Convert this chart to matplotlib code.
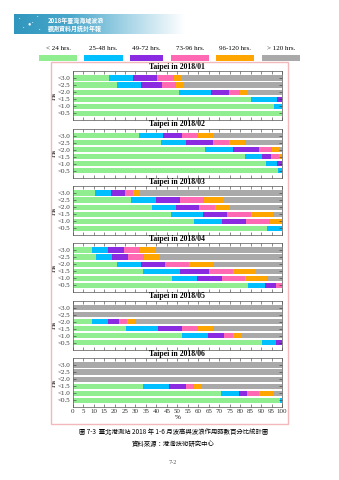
import numpy as np
import matplotlib
matplotlib.use('Agg')
import matplotlib.pyplot as plt
from matplotlib.patches import Rectangle
from matplotlib.colors import LinearSegmentedColormap

# 波高類別與持續時數類別
hs_labels = ['<0.5', '<1.0', '<1.5', '<2.0', '<2.5', '<3.0']
dur_labels = ['< 24 hrs.', '25-48 hrs.', '49-72 hrs.', '73-96 hrs.', '96-120 hrs.', '> 120 hrs.']
colors = ['#90EE90', '#00BFFF', '#8A2BE2', '#FF69B4', '#FFA500', '#A9A9A9']
months = ['2018/01', '2018/02', '2018/03', '2018/04', '2018/05', '2018/06']

# 累積百分比 (各列: <0.5 ... <3.0, 各欄: 各時數類別的累積邊界)
m01 = [[100, 100, 100, 100, 100, 100],
       [96.3, 100, 100, 100, 100, 100],
       [85.1, 97.6, 100, 100, 100, 100],
       [50.7, 66.1, 74.6, 80.0, 83.9, 100],
       [21.1, 32.8, 42.6, 49.3, 53.1, 100],
       [17.3, 28.9, 40.4, 48.2, 52.1, 100]]
m02 = [[98.3, 100, 100, 100, 100, 100],
       [92.2, 97.8, 100, 100, 100, 100],
       [82.2, 90.3, 94.6, 98.7, 100, 100],
       [63.4, 76.6, 89.0, 95.4, 99.2, 100],
       [42.1, 53.9, 66.8, 74.6, 82.2, 100],
       [31.5, 43.1, 52.3, 59.9, 67.7, 100]]
m03 = [[92.7, 100, 100, 100, 100, 100],
       [58.0, 71.2, 82.7, 94.1, 100, 100],
       [46.9, 62.2, 73.6, 85.2, 95.7, 100],
       [37.8, 49.4, 60.3, 68.0, 75.2, 100],
       [28.0, 39.7, 51.4, 62.8, 72.2, 100],
       [10.8, 18.4, 24.9, 28.9, 32.1, 100]]
m04 = [[83.6, 91.9, 97.0, 100, 100, 100],
       [47.5, 59.5, 71.1, 82.5, 93.0, 100],
       [33.7, 51.5, 65.3, 76.6, 87.4, 100],
       [21.0, 32.4, 44.0, 55.6, 67.4, 100],
       [11.1, 18.6, 26.4, 34.0, 41.6, 100],
       [9.1, 16.7, 24.5, 32.1, 39.7, 100]]
m05 = [[90.3, 97.0, 100, 100, 100, 100],
       [52.3, 64.5, 72.2, 76.8, 80.8, 100],
       [25.4, 40.7, 52.1, 59.8, 67.2, 100],
       [9.1, 16.9, 22.1, 25.9, 29.9, 100],
       [0, 0, 0, 0, 0, 100],
       [0, 0, 0, 0, 0, 100]]
m06 = [[98.9, 100, 100, 100, 100, 100],
       [70.7, 79.5, 83.5, 89.0, 96.0, 100],
       [33.7, 45.9, 53.9, 57.9, 61.8, 100],
       [0.5, 0.5, 0.5, 0.5, 0.5, 100],
       [0, 0, 0, 0, 0, 100],
       [0, 0, 0, 0, 0, 100]]
all_data = [m01, m02, m03, m04, m05, m06]

plt.rcParams['font.family'] = ['Liberation Serif', 'DejaVu Serif']
W, H = 339, 480
fig = plt.figure(figsize=(W / 100, H / 100), dpi=100)
fig.patch.set_facecolor('white')

def fx(px):
    return px / W

def fy(py):
    return 1 - py / H

cjk = ['Noto Sans CJK TC', 'DejaVu Sans']

# 頁首橫幅
bar = fig.add_axes([fx(14), fy(34), fx(185 - 14), (34 - 14) / H])
grad = np.linspace(0, 1, 256).reshape(1, -1)
cmap = LinearSegmentedColormap.from_list('hd', ['#3196bd', '#4aa8cc', '#a8d5e7', '#ffffff'])
bar.imshow(grad, aspect='auto', cmap=cmap, extent=[0, 1, 0, 1])
bar.axis('off')
for (px, py) in [(20, 19), (24, 28), (33, 23), (38, 17), (40, 30)]:
    fig.text(fx(px), fy(py), '•', color='white', fontsize=3, ha='center', va='center')
fig.text(fx(29), fy(24), '●', color='white', fontsize=4, ha='center', va='center')
fig.text(fx(48), fy(21), '2018年臺灣海域波浪', color='white', fontsize=4.3,
         family=cjk, weight='bold', va='center')
fig.text(fx(48), fy(28.5), '觀測資料月統計年報', color='white', fontsize=4.3,
         family=cjk, weight='bold', va='center')

# 圖例
patch_x = [(39, 77), (84, 123), (130, 163), (171, 209), (216, 254), (262, 300)]
for (x0, x1), lab, c in zip(patch_x, dur_labels, colors):
    fig.patches.append(Rectangle((fx(x0), fy(61)), fx(x1 - x0), 6 / H,
                                 transform=fig.transFigure, facecolor=c, edgecolor='none'))
    fig.text(fx((x0 + x1) / 2), fy(48), lab, fontsize=5, ha='center', va='center')

# 粉紅外框
fig.patches.append(Rectangle((fx(51), fy(424)), fx(288 - 51), (424 - 62) / H,
                             transform=fig.transFigure, facecolor='none',
                             edgecolor='#F2B8BC', linewidth=1.0))

tops = [71, 128.5, 186, 243, 300.5, 358]
ypos = np.arange(len(hs_labels))
for k, (data, month) in enumerate(zip(all_data, months)):
    ax = fig.add_axes([fx(72.7), fy(tops[k] + 49), fx(209.3), 49 / H])
    cum = np.array(data, dtype=float)
    left = np.hstack([np.zeros((cum.shape[0], 1)), cum[:, :-1]])
    widths = cum - left
    for j in range(cum.shape[1]):
        ax.barh(ypos, widths[:, j], left=left[:, j], height=0.74, color=colors[j],
                edgecolor='none')
    ax.set_xlim(0, 100)
    ax.set_ylim(-0.95, 6.0)
    ax.set_yticks(ypos)
    ax.set_yticklabels(hs_labels, fontsize=5)
    ax.set_xticks(np.arange(0, 101, 5))
    ax.tick_params(direction='in', length=2, width=0.4, top=True, right=True, pad=1.5,
                   colors='#333333')
    if k == 5:
        ax.set_xticklabels([str(v) for v in range(0, 101, 5)], fontsize=5)
        ax.set_xlabel('%', fontsize=5, labelpad=1)
    else:
        ax.set_xticklabels([])
    for s in ax.spines.values():
        s.set_linewidth(0.5)
        s.set_color('#555555')
    ax.set_ylabel('Hs', fontsize=5.3, labelpad=1)
    ax.set_title('Taipei in ' + month, fontsize=5.6, weight='bold', pad=1.5)

# 圖說
fig.text(fx(174), fy(432), '圖 7-3  臺北港測站 2018 年 1-6 月波高與波浪作用時數百分比統計圖',
         fontsize=4.6, family=cjk, ha='center', va='center')
fig.text(fx(173), fy(444), '資料來源：港灣技術研究中心', fontsize=4.6, family=cjk,
         ha='center', va='center')
fig.text(fx(173), fy(462), '7-2', fontsize=4.5, ha='center', va='center', color='#555555')

fig.savefig('out.png', dpi=100)
